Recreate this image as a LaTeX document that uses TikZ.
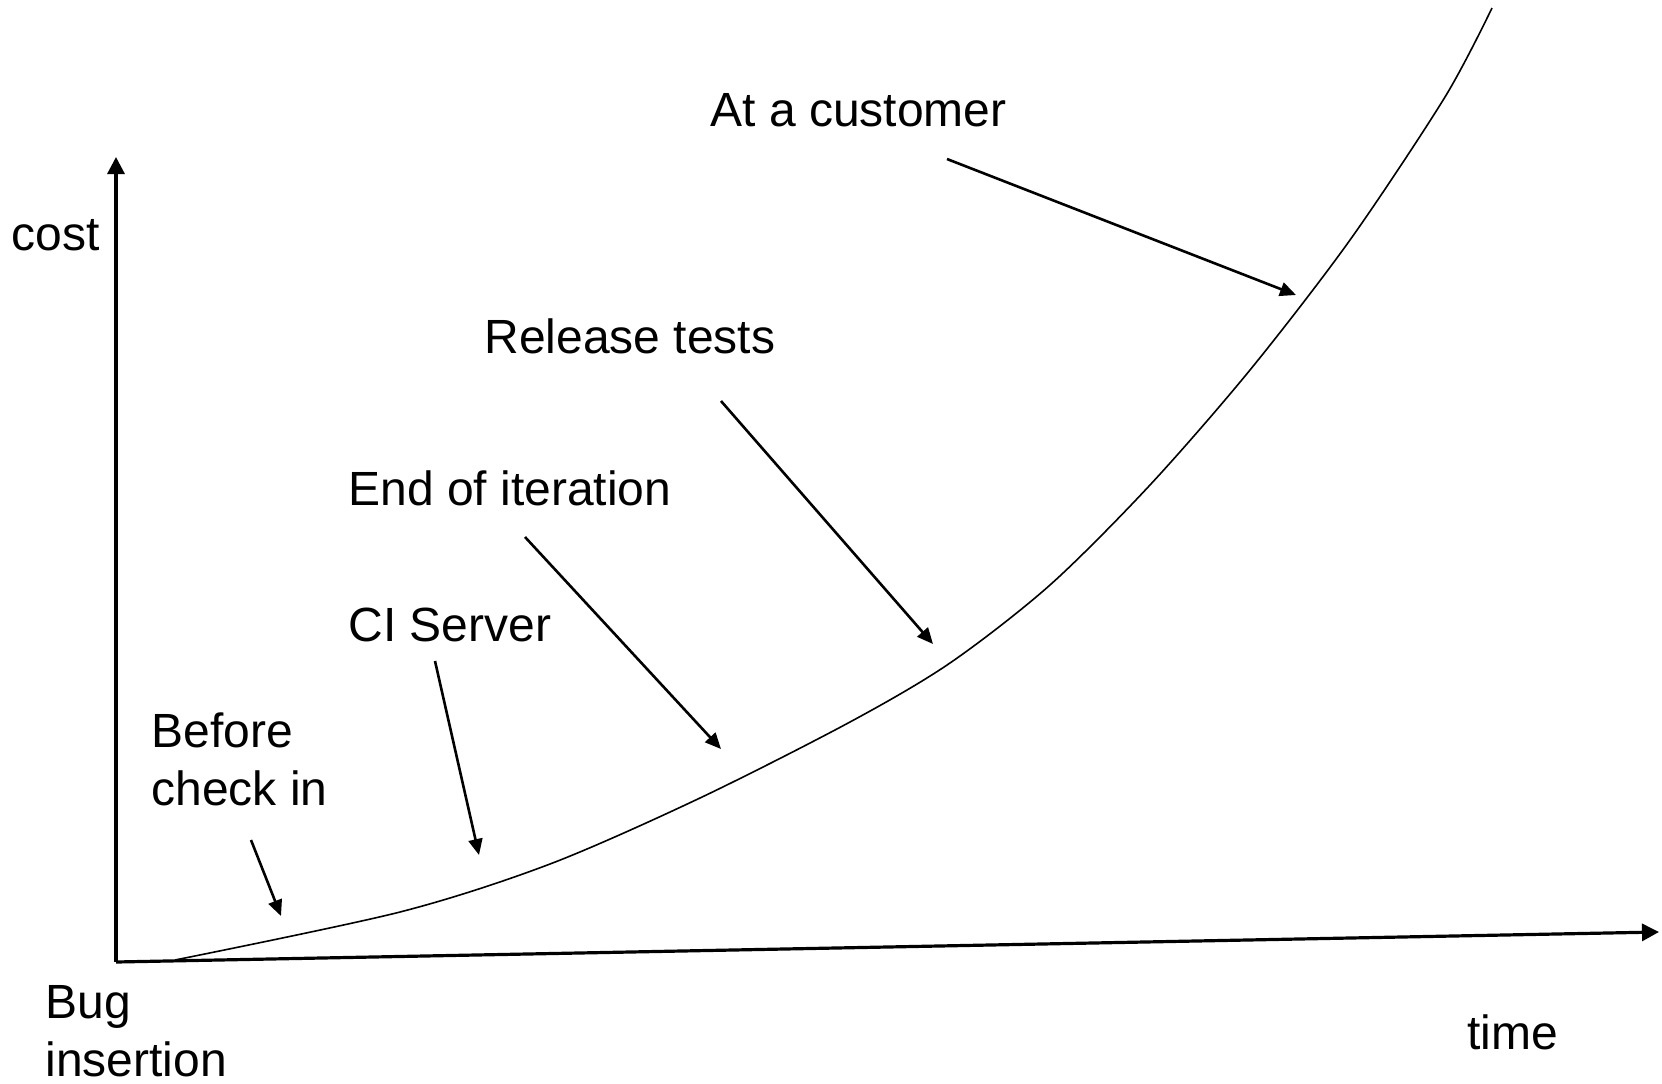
\documentclass[tikz,border=0pt]{standalone}
\usepackage{fontspec}
\setmainfont{Liberation Sans}
\usetikzlibrary{arrows.meta}

\begin{document}
\begin{tikzpicture}[x=0.5pt,y=-0.5pt,
	lbl/.style={anchor=base west,inner sep=0pt,align=left,font=\fontsize{24}{28.6}\selectfont},
	pointer/.style={line width=1.3pt,-{Triangle[length=8pt,width=7pt]}}]
	\useasboundingbox (0,0) rectangle (1662,1083);
	% axes
	\coordinate (origin) at (116,962);
	\coordinate (ytop) at (116,157);
	\coordinate (xend) at (1659,932);
	\draw[line width=1.6pt,-{Triangle[length=8.5pt,width=8.5pt]}] (origin) -- (ytop);
	\draw[line width=1.6pt,-{Triangle[length=8.5pt,width=8.5pt]}] (origin) -- (xend);
	\node[lbl] (cost) at (11,250) {cost};
	\node[lbl] (time) at (1467,1049) {time};
	\node[lbl] (bug) at (45,1076) {Bug\\insertion};
	% cost curve
	\draw[line width=0.8pt] plot[smooth] coordinates {(175,960) (400,912) (550,864) (700,798)
		(850,722) (950,663) (1050,585) (1150,485) (1250,370) (1350,240) (1445,97) (1492,8)};
	% labels and pointers
	\node[lbl] (before) at (151,805) {Before\\check in};
	\node[lbl] (ci) at (348,641) {CI Server};
	\node[lbl] (iteration) at (348,505) {End of iteration};
	\node[lbl] (release) at (484,353) {Release tests};
	\node[lbl] (customer) at (710,126) {At a customer};
	\coordinate (before-a) at (251,840);
	\coordinate (before-b) at (281,916);
	\coordinate (ci-a) at (435,661);
	\coordinate (ci-b) at (479,855);
	\coordinate (iteration-a) at (525,537);
	\coordinate (iteration-b) at (721,749);
	\coordinate (release-a) at (721,401);
	\coordinate (release-b) at (933,644);
	\coordinate (customer-a) at (947,159);
	\coordinate (customer-b) at (1296,295);
	\draw[pointer] (before-a) -- (before-b);
	\draw[pointer] (ci-a) -- (ci-b);
	\draw[pointer] (iteration-a) -- (iteration-b);
	\draw[pointer] (release-a) -- (release-b);
	\draw[pointer] (customer-a) -- (customer-b);
\end{tikzpicture}
\end{document}
